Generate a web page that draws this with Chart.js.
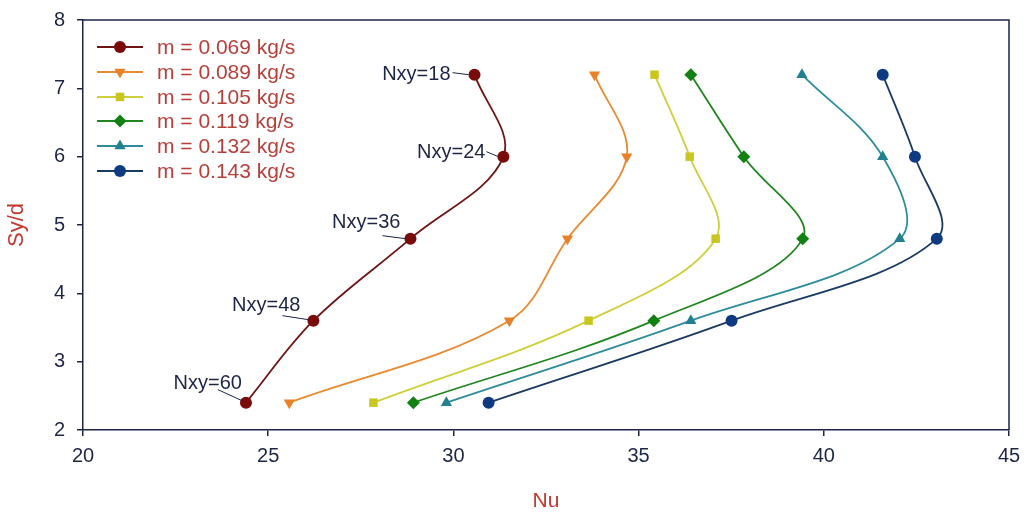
<!DOCTYPE html>
<html>
<head>
<meta charset="utf-8">
<title>Nu vs Sy/d</title>
<script src="https://cdn.jsdelivr.net/npm/chart.js@4.4.1/dist/chart.umd.min.js"></script>
<style>
  html, body { margin: 0; padding: 0; background: #ffffff; }
  #wrap { width: 1025px; height: 512px; }
</style>
</head>
<body>
<div id="wrap"><canvas id="c" width="1025" height="512"></canvas></div>
<script>
// Spacing ratio Sy/d (same for every series)
const syd = [7.2, 6.0, 4.8, 3.6, 2.4];

// Nusselt number for each mass flow rate
const nu069 = [30.57, 31.35, 28.84, 26.22, 24.40];
const nu089 = [33.81, 34.68, 33.08, 31.51, 25.57];
const nu105 = [35.43, 36.38, 37.08, 33.65, 27.84];
const nu119 = [36.41, 37.84, 39.43, 35.41, 28.92];
const nu132 = [39.41, 41.59, 42.05, 36.41, 29.81];
const nu143 = [41.59, 42.46, 43.05, 37.51, 30.95];

const seriesNames = [
  'm = 0.069 kg/s', 'm = 0.089 kg/s', 'm = 0.105 kg/s',
  'm = 0.119 kg/s', 'm = 0.132 kg/s', 'm = 0.143 kg/s'
];

// Number of tubes for the points of the first series
const nxyLabels = ['Nxy=18', 'Nxy=24', 'Nxy=36', 'Nxy=48', 'Nxy=60'];

// Axis ticks
const xTicks = [20, 25, 30, 35, 40, 45];
const yTicks = [2, 3, 4, 5, 6, 7, 8];

const INK = '#1d2545';
const RED_TEXT = '#b5403a';
const FONT = '"Liberation Sans", Arial, sans-serif';

const styles = [
  { line: '#6e1414', point: '#7a0b0b', shape: 'circle',   rot: 0,   r: 6 },
  { line: '#e88a30', point: '#e8822a', shape: 'triangle', rot: 180, r: 6.5 },
  { line: '#cfcf3c', point: '#c9c61f', shape: 'rect',     rot: 0,   r: 6 },
  { line: '#1f861f', point: '#138013', shape: 'rectRot',  rot: 0,   r: 6.5 },
  { line: '#2e8c9a', point: '#23808f', shape: 'triangle', rot: 0,   r: 6.5 },
  { line: '#1b3a62', point: '#0d3a80', shape: 'circle',   rot: 0,   r: 6 }
];

const nuSeries = [nu069, nu089, nu105, nu119, nu132, nu143];

const datasets = nuSeries.map((vals, i) => ({
  label: seriesNames[i],
  data: vals.map((v, k) => ({ x: v, y: syd[k] })),
  showLine: true,
  tension: 0.36,
  borderColor: styles[i].line,
  borderWidth: 1.8,
  backgroundColor: styles[i].point,
  pointBackgroundColor: styles[i].point,
  pointBorderColor: styles[i].point,
  pointBorderWidth: 0,
  pointStyle: styles[i].shape,
  pointRotation: styles[i].rot,
  pointRadius: styles[i].r,
  pointHoverRadius: styles[i].r
}));

// Text offsets (px) for the Nxy annotations: text right edge and leader line
const nxyPlacement = [
  { tx: -24, ty: 0,   l: [-22, -2, -6, 0] },
  { tx: -18, ty: -4,  l: [-17, -5, -5, 0] },
  { tx: -10, ty: -16, l: [-28, -3, -5, 0] },
  { tx: -13, ty: -15, l: [-31, -5, -5, -1] },
  { tx: -4,  ty: -19, l: [-28, -13, -4, -2] }
];

function drawMarker(ctx, style, x, y) {
  const opts = {
    pointStyle: style.shape, rotation: style.rot, radius: style.r, borderWidth: 0
  };
  ctx.save();
  ctx.fillStyle = style.point;
  ctx.strokeStyle = style.point;
  if (Chart.helpers && Chart.helpers.drawPoint) {
    Chart.helpers.drawPoint(ctx, opts, x, y);
  } else {
    ctx.beginPath();
    ctx.arc(x, y, style.r, 0, Math.PI * 2);
    ctx.fill();
  }
  ctx.restore();
}

const framePlugin = {
  id: 'frame',
  afterDraw(chart) {
    const { ctx, chartArea: a } = chart;
    ctx.save();
    ctx.strokeStyle = INK;
    ctx.lineWidth = 1.5;
    ctx.beginPath();
    ctx.moveTo(a.left, a.top);
    ctx.lineTo(a.right, a.top);
    ctx.lineTo(a.right, a.bottom);
    ctx.stroke();
    ctx.restore();
  }
};

const legendPlugin = {
  id: 'innerLegend',
  afterDraw(chart) {
    const ctx = chart.ctx;
    const x0 = 97, x1 = 143, tx = 157;
    const rows = [47, 72, 97, 121, 146, 171];
    ctx.save();
    ctx.font = '21px ' + FONT;
    ctx.textBaseline = 'middle';
    ctx.textAlign = 'left';
    chart.data.datasets.forEach((ds, i) => {
      const y = rows[i];
      ctx.strokeStyle = styles[i].line;
      ctx.lineWidth = 1.8;
      ctx.beginPath();
      ctx.moveTo(x0, y);
      ctx.lineTo(x1, y);
      ctx.stroke();
      drawMarker(ctx, styles[i], (x0 + x1) / 2, y);
      ctx.fillStyle = RED_TEXT;
      ctx.fillText(ds.label, tx, y + 1);
    });
    ctx.restore();
  }
};

const nxyPlugin = {
  id: 'nxyNotes',
  afterDatasetsDraw(chart) {
    const ctx = chart.ctx;
    const xs = chart.scales.x, ys = chart.scales.y;
    ctx.save();
    ctx.font = '20px ' + FONT;
    ctx.textBaseline = 'middle';
    ctx.textAlign = 'right';
    ctx.fillStyle = INK;
    ctx.strokeStyle = INK;
    ctx.lineWidth = 1;
    nxyLabels.forEach((txt, k) => {
      const px = xs.getPixelForValue(nu069[k]);
      const py = ys.getPixelForValue(syd[k]);
      const p = nxyPlacement[k];
      ctx.beginPath();
      ctx.moveTo(px + p.l[0], py + p.l[1]);
      ctx.lineTo(px + p.l[2], py + p.l[3]);
      ctx.stroke();
      ctx.fillText(txt, px + p.tx, py + p.ty);
    });
    ctx.restore();
  }
};

new Chart(document.getElementById('c'), {
  type: 'scatter',
  data: { datasets },
  plugins: [framePlugin, legendPlugin, nxyPlugin],
  options: {
    responsive: false,
    animation: false,
    devicePixelRatio: 1,
    layout: { padding: { top: 20, right: 16, left: 0, bottom: 0 } },
    plugins: {
      legend: { display: false },
      tooltip: { enabled: false }
    },
    scales: {
      x: {
        type: 'linear',
        min: xTicks[0],
        max: xTicks[xTicks.length - 1],
        afterBuildTicks(scale) { scale.ticks = xTicks.map(v => ({ value: v })); },
        afterFit(scale) {
          scale.height = 82;
          scale.paddingLeft = 0;
          scale.paddingRight = 0;
        },
        grid: { display: true, drawOnChartArea: false, drawTicks: true, tickLength: 6, color: INK, lineWidth: 1.5 },
        border: { display: true, color: INK, width: 1.5 },
        ticks: {
          color: INK, padding: 8,
          font: { family: FONT, size: 20 }
        },
        title: {
          display: true, text: 'Nu', color: '#c0392f',
          font: { family: FONT, size: 21, lineHeight: 1.0 },
          padding: { top: 0, bottom: 0 }
        }
      },
      y: {
        type: 'linear',
        min: yTicks[0],
        max: yTicks[yTicks.length - 1],
        afterBuildTicks(scale) { scale.ticks = yTicks.map(v => ({ value: v })); },
        afterFit(scale) {
          scale.width = 83;
          scale.paddingTop = 0;
          scale.paddingBottom = 0;
        },
        grid: { display: true, drawOnChartArea: false, drawTicks: true, tickLength: 6, color: INK, lineWidth: 1.5 },
        border: { display: true, color: INK, width: 1.5 },
        ticks: {
          color: INK, padding: 12,
          font: { family: FONT, size: 20 }
        },
        title: {
          display: true, text: 'Sy/d', color: '#c0392f',
          font: { family: FONT, size: 22 },
          padding: { top: 4, bottom: 0 }
        }
      }
    }
  }
});
</script>
</body>
</html>
